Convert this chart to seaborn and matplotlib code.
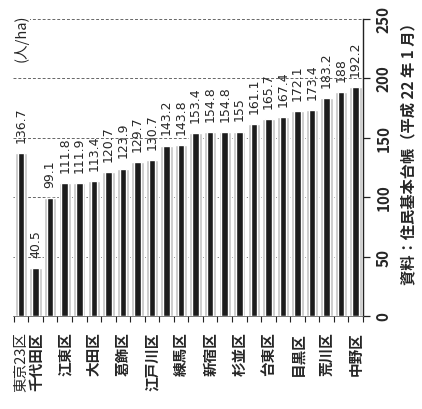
import matplotlib
matplotlib.use("Agg")
import matplotlib.pyplot as plt
import matplotlib.transforms as mtransforms
import numpy as np
import pandas as pd
import seaborn as sns

# population density (人/ha), sorted ascending after the 23-ward total
densities = [136.7, 40.5, 99.1, 111.8, 111.9, 113.4, 120.7, 123.9, 129.7, 130.7,
             143.2, 143.8, 153.4, 154.8, 154.8, 155.0, 161.1, 165.7, 167.4, 172.1,
             173.4, 183.2, 188.0, 192.2]
value_labels = ['136.7', '40.5', '99.1', '111.8', '111.9', '113.4', '120.7', '123.9',
                '129.7', '130.7', '143.2', '143.8', '153.4', '154.8', '154.8', '155',
                '161.1', '165.7', '167.4', '172.1', '173.4', '183.2', '188', '192.2']
# only every other ward is named in the source
ward_labels = ['東京23区', '千代田区', '', '江東区', '', '大田区', '', '葛飾区', '',
               '江戸川区', '', '練馬区', '', '新宿区', '', '杉並区', '', '台東区', '',
               '目黒区', '', '荒川区', '', '中野区']
y_ticks = [0, 50, 100, 150, 200, 250]
unit_label = '(人/ha)'
source_label = '資料：住民基本台帳（平成 22 年 1 月）'

sns.set_style('white')
plt.rcParams['font.family'] = ['Noto Sans CJK JP', 'DejaVu Sans']

df = pd.DataFrame({'rank': range(len(densities)), 'density': densities})

fig = plt.figure(figsize=(4.22, 4.10), dpi=100)
ax = fig.add_axes([0.031, 0.2268, 0.829, 0.7256])

# grey halo behind each bar, like the printed shading
sns.barplot(data=df, x='rank', y='density', color='#c4c4c4', width=0.85,
            saturation=1, ax=ax, zorder=2)
sns.barplot(data=df, x='rank', y='density', color='#1c1c1c', width=0.45,
            saturation=1, ax=ax, zorder=3)

ax.set_xlim(-0.55, 23.42)
ax.set_ylim(0, 250)

for y in y_ticks[1:]:
    ax.axhline(y, color='#666666', lw=0.7, ls=(0, (3, 2)), zorder=1)

for i, (v, lab) in enumerate(zip(densities, value_labels)):
    ax.annotate(lab, (i, v), xytext=(0, 8), textcoords='offset points',
                rotation=90, ha='center', va='bottom', fontsize=9,
                family='DejaVu Sans', zorder=4)

ax.set_xticks(range(len(ward_labels)))
ax.set_xticklabels(ward_labels, rotation=90, fontsize=10.5, fontweight='bold')
first = ax.get_xticklabels()[0]
first.set_fontweight('normal')
first.set_fontsize(10.5)
first.set_transform(first.get_transform() +
                    mtransforms.ScaledTranslation(-4 / 100, 0, fig.dpi_scale_trans))
ax.set_xticks(np.arange(-0.5, len(densities), 1.0), minor=True)
ax.tick_params(axis='x', which='major', length=0, pad=11)
ax.tick_params(axis='x', which='minor', length=4, width=0.8, direction='out',
               bottom=True, color='#222222')

ax.yaxis.tick_right()
ax.set_yticks(y_ticks)
ax.set_yticklabels([str(t) for t in y_ticks], rotation=90, fontsize=11,
                   fontweight='bold', va='center')
ax.tick_params(axis='y', length=5, width=0.9, direction='out', right=True,
               pad=4, color='#222222')

for side in ['left', 'top']:
    ax.spines[side].set_visible(False)
ax.spines['right'].set_color('#222222')
ax.spines['right'].set_linewidth(1.0)
ax.spines['bottom'].set_color('#666666')
ax.spines['bottom'].set_linewidth(0.6)

ax.set_xlabel('')
ax.set_ylabel('')

ax.text(-0.5, 254, unit_label, rotation=90, ha='left', va='top', fontsize=10.5,
        zorder=5, bbox=dict(facecolor='white', edgecolor='none', pad=1))

fig.text(0.967, 0.634, source_label, rotation=90, ha='center', va='center',
         fontsize=11, fontweight='bold')

fig.savefig('out.png', dpi=100)
